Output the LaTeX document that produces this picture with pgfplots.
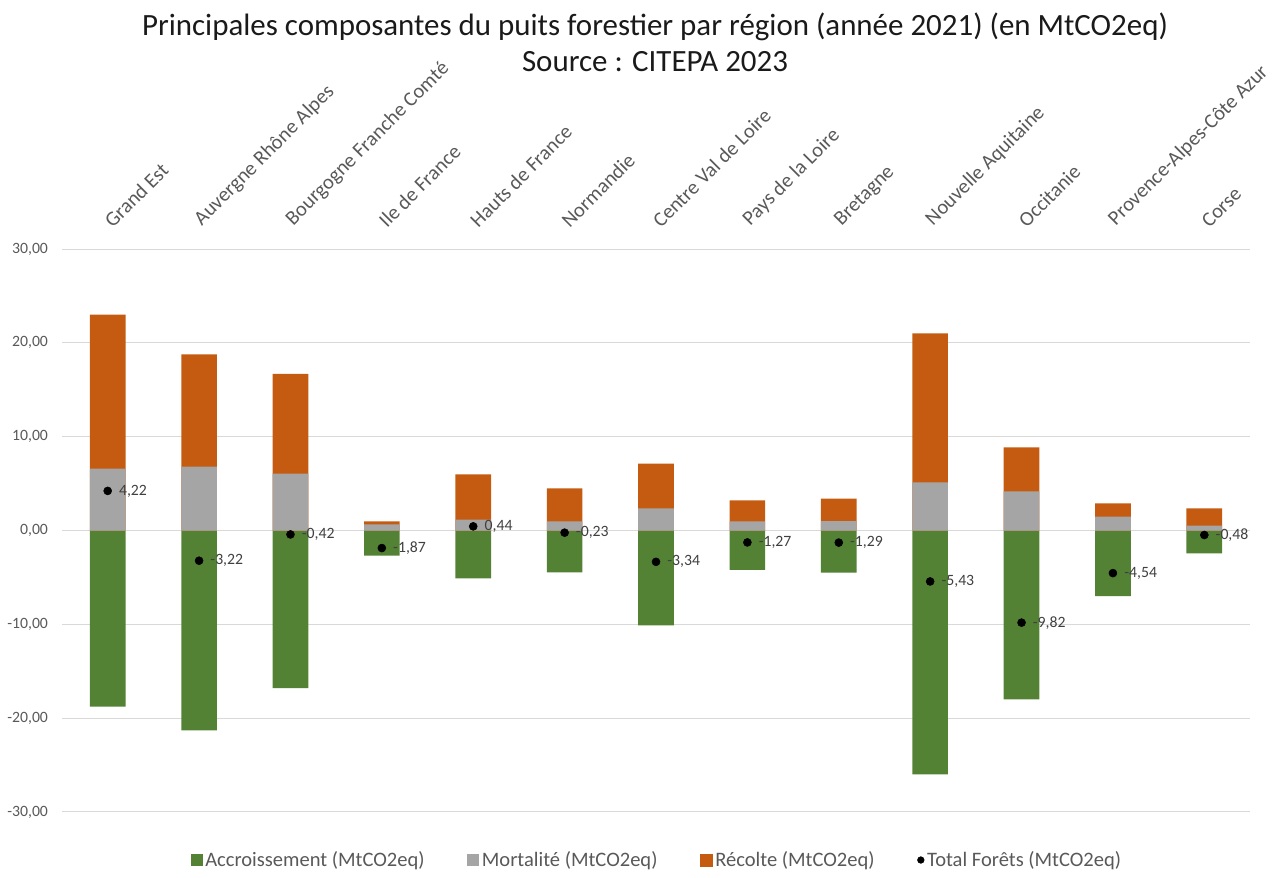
\documentclass[border=0pt]{standalone}
\usepackage{pgfplots}
\pgfplotsset{compat=1.18}
\usepackage{pgfplotstable}
\usepackage{fontspec}
\setmainfont{Carlito}
\definecolor{cgreen}{HTML}{548235}
\definecolor{cgray}{HTML}{A5A5A5}
\definecolor{corange}{HTML}{C55A11}
\definecolor{cgrid}{HTML}{D9D9D9}
\definecolor{ctick}{HTML}{595959}
\definecolor{clab}{HTML}{404040}
\definecolor{ctitle}{HTML}{1A1A1A}

\pgfplotstableread{
idx acc mort rec tot lab
0 -18.76 6.60 16.40 4.22 4,22
1 -21.30 6.82 11.94 -3.22 -3,22
2 -16.80 6.07 10.63 -0.42 -0,42
3 -2.67 0.64 0.34 -1.87 -1,87
4 -5.10 1.17 4.80 0.44 0,44
5 -4.45 0.96 3.52 -0.23 -0,23
6 -10.10 2.35 4.79 -3.34 -3,34
7 -4.20 0.96 2.24 -1.27 -1,27
8 -4.50 1.00 2.41 -1.29 -1,29
9 -26.00 5.12 15.88 -5.43 -5,43
10 -18.00 4.16 4.69 -9.82 -9,82
11 -7.00 1.49 1.39 -4.54 -4,54
12 -2.45 0.53 1.82 -0.48 -0,48
}\data

\begin{document}
\begin{tikzpicture}
\useasboundingbox (0pt,0pt) rectangle (961.5pt,658.5pt);
\node[font=\fontsize{23.2}{27}\selectfont, text=ctitle] at (491.25pt,638.5pt) {Principales composantes du puits forestier par région (année 2021) (en MtCO2eq)};
\node[font=\fontsize{23.2}{27}\selectfont, text=ctitle] at (491.25pt,612pt) {Source : CITEPA 2023};
\begin{axis}[
  at={(46.5pt,49.5pt)}, anchor=south west,
  scale only axis, width=891pt, height=422.25pt,
  xmin=-0.5, xmax=12.5, ymin=-30, ymax=30,
  axis line style={draw=none},
  major tick length=0pt,
  ytick={-30,-20,-10,0,10,20,30},
  yticklabels={{-30,00},{-20,00},{-10,00},{0,00},{10,00},{20,00},{30,00}},
  yticklabel style={font=\fontsize{11.8}{14}\selectfont, text=ctick, xshift=-7pt},
  ymajorgrids, grid style={draw=cgrid, line width=0.75pt},
  xtick={0,...,12},
  xticklabels={Grand Est, Auvergne Rhône Alpes, Bourgogne Franche Comté, Ile de France, Hauts de France, Normandie, Centre Val de Loire, Pays de la Loire, Bretagne, Nouvelle Aquitaine, Occitanie, Provence-Alpes-Côte Azur, Corse},
  xticklabel pos=upper,
  xticklabel style={yshift=15pt, xshift=4pt, rotate=45, anchor=south west, inner sep=0pt, font=\fontsize{15.4}{18}\selectfont, text=ctick},
  legend style={at={(0.501,-0.0853)}, anchor=center, draw=none, fill=none,
    font=\fontsize{15.4}{18}\selectfont, text=ctick, legend columns=4,
    /tikz/every even column/.append style={column sep=30pt}},
  legend cell align=left,
]
\addplot[ybar, bar shift=0pt, bar width=0.39, fill=cgreen, draw=none,
  legend image code/.code={\fill[cgreen] (0pt,-4.5pt) rectangle (9pt,4.5pt);}]
  table[x=idx, y=acc] {\data};
\addlegendentry{Accroissement (MtCO2eq)}
\addplot[ybar, bar shift=0pt, bar width=0.39, fill=corange, draw=none, forget plot]
  table[x=idx, y expr=\thisrow{mort}+\thisrow{rec}] {\data};
\addplot[ybar, bar shift=0pt, bar width=0.39, fill=cgray, draw=none,
  legend image code/.code={\fill[cgray] (0pt,-4.5pt) rectangle (9pt,4.5pt);}]
  table[x=idx, y=mort] {\data};
\addlegendentry{Mortalité (MtCO2eq)}
\addlegendimage{legend image code/.code={\fill[corange] (0pt,-4.5pt) rectangle (9pt,4.5pt);}}
\addlegendentry{Récolte (MtCO2eq)}
\addplot[only marks, mark=*, mark size=3pt, black,
  nodes near coords, point meta=explicit symbolic,
  nodes near coords style={anchor=west, xshift=5pt, font=\fontsize{11.8}{14}\selectfont, text=clab},
  legend image code/.code={\fill[black] (4.5pt,0pt) circle (2.5pt);}]
  table[x=idx, y=tot, meta=lab] {\data};
\addlegendentry{Total Forêts (MtCO2eq)}
\end{axis}
\end{tikzpicture}
\end{document}
